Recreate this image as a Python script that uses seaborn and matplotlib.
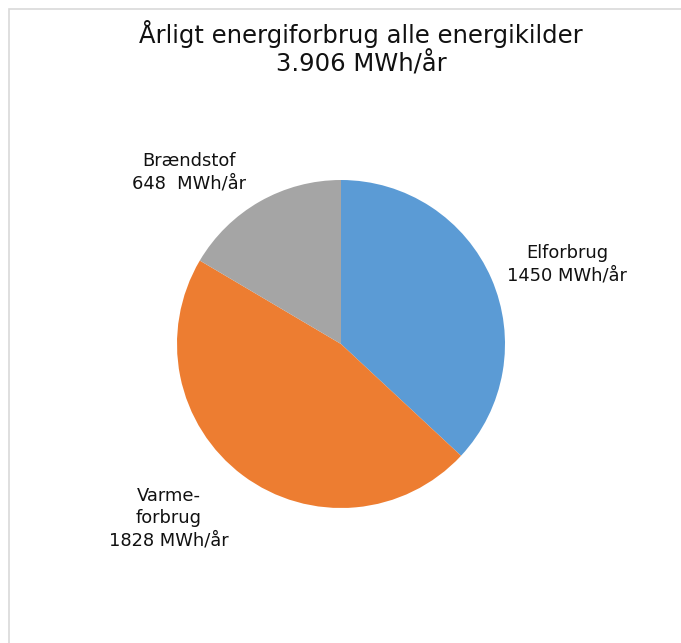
import numpy as np
import matplotlib
matplotlib.use("Agg")
import matplotlib.pyplot as plt
import seaborn as sns
from matplotlib.patches import Rectangle

# data
categories = ["Elforbrug", "Varmeforbrug", "Brændstof"]
values = [1450, 1828, 648]
label_texts = ["Elforbrug\n1450 MWh/år", "Varme-\nforbrug\n1828 MWh/år", "Brændstof\n648  MWh/år"]
colors = ["#5B9BD5", "#ED7D31", "#A5A5A5"]
title = "Årligt energiforbrug alle energikilder\n3.906 MWh/år"

sns.set_theme(style="white")
plt.rcParams['font.family'] = ['DejaVu Sans']

W, H = 681, 643
fig = plt.figure(figsize=(W / 100, H / 100), dpi=100)
fig.patch.set_facecolor("white")

# chart area border (cropped on right/bottom)
fig.patches.append(Rectangle((8.5 / W, -0.1), 1.2, (H - 9.5) / H + 0.1,
                             transform=fig.transFigure, fill=False,
                             edgecolor="#D9D9D9", linewidth=1.2))

# pie axes: center (341, 344) px, radius 164 px
cx, cy, r = 341, 344, 164
ax = fig.add_axes([(cx - r) / W, (H - cy - r) / H, 2 * r / W, 2 * r / H])
ax.pie(values, colors=colors, startangle=90, counterclock=False,
       radius=1, wedgeprops=dict(linewidth=0))
ax.set_xlim(-1, 1)
ax.set_ylim(-1, 1)
ax.set_aspect("equal")
ax.axis("off")

# label positions in pie units
label_pos = [(1.378, 0.488), (-1.049, -1.061), (-0.927, 1.049)]
for txt, (x, y) in zip(label_texts, label_pos):
    ax.text(x, y, txt, ha="center", va="center", fontsize=12.9,
            color="#111111", linespacing=1.3, clip_on=False)

fig.text(361 / W, 1 - 48 / H, title, ha="center", va="center",
         fontsize=17.5, color="#111111", linespacing=1.15)

fig.savefig("out.png", dpi=100, facecolor="white")
